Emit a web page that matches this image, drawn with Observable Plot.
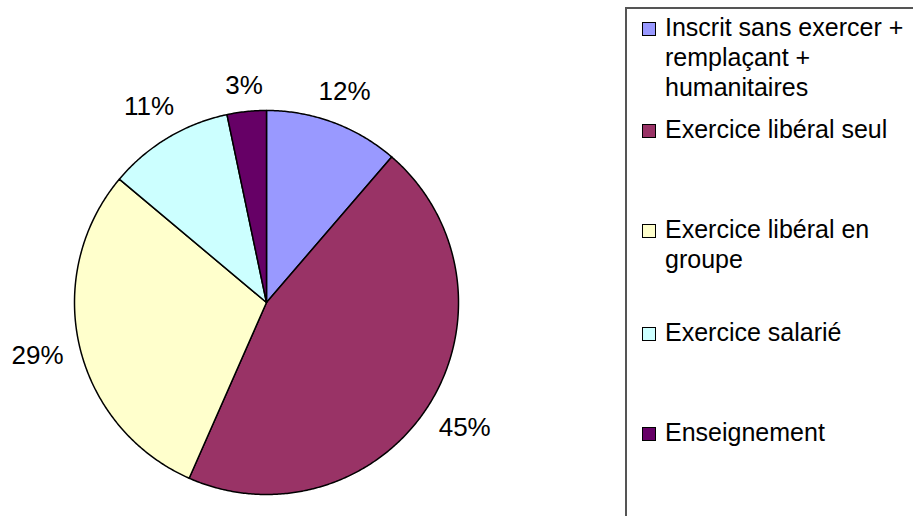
<!DOCTYPE html>
<html><head><meta charset="utf-8">
<script src="https://cdn.jsdelivr.net/npm/d3@7"></script>
<script src="https://cdn.jsdelivr.net/npm/@observablehq/plot@0.6"></script>
<style>
body{margin:0;background:#fff;font-family:"Liberation Sans",Arial,sans-serif;}
#wrap{position:relative;width:913px;height:516px;overflow:hidden;}
#legend{position:absolute;left:625px;top:7px;width:300px;height:540px;border:2px solid #555;box-sizing:border-box;}
.item{position:absolute;left:38px;font-size:25px;line-height:30px;color:#000;white-space:pre;}
.sw{position:absolute;left:15px;width:12px;height:12px;border:1px solid #000;}
</style></head><body><div id="wrap"></div>
<script>
const categories = ["Inscrit sans exercer + remplaçant + humanitaires","Exercice libéral seul","Exercice libéral en groupe","Exercice salarié","Enseignement"];
const legendLines = ["Inscrit sans exercer +\nremplaçant +\nhumanitaires","Exercice libéral seul","Exercice libéral en\ngroupe","Exercice salarié","Enseignement"];
const values = [11.3, 45.3, 29.5, 10.6, 3.3];
const labels = ["12%","45%","29%","11%","3%"];
const colors = ["#9999FF","#993366","#FFFFCC","#CCFFFF","#660066"];

const W = 913, H = 516, R = 192, cx = 266, cy = 302;
const arcs = d3.pie().sort(null)(values);
const pts = [];
arcs.forEach((a, i) => {
  const cat = categories[i];
  pts.push({x: 0, y: 0, cat});
  const n = Math.max(2, Math.ceil((a.endAngle - a.startAngle) / (Math.PI / 360)));
  for (let k = 0; k <= n; k++) {
    const t = a.startAngle + (a.endAngle - a.startAngle) * k / n;
    pts.push({x: Math.sin(t), y: Math.cos(t), cat});
  }
  pts.push({x: 0, y: 0, cat});
});
const fs = 26;
const labelData = arcs.map((a, i) => {
  const t = (a.startAngle + a.endAngle) / 2;
  const hw = (labels[i].length - 1) * 0.556 * fs / 2 + 0.889 * fs / 2;
  const r = (R + 16 + hw * Math.abs(Math.sin(t)) + 8 * Math.abs(Math.cos(t))) / R;
  return {x: r * Math.sin(t), y: r * Math.cos(t), text: labels[i]};
});

const chart = Plot.plot({
  width: W, height: H,
  margin: 0,
  x: {domain: [-cx / R, (W - cx) / R], range: [0, W], axis: null},
  y: {domain: [-(H - cy) / R, cy / R], range: [H, 0], axis: null},
  color: {domain: categories, range: colors},
  style: {fontFamily: "'Liberation Sans', Arial, sans-serif", background: "white"},
  marks: [
    Plot.line(pts, {x: "x", y: "y", z: "cat", fill: "cat", stroke: "black", strokeWidth: 1.5, strokeLinejoin: "round"}),
    Plot.text(labelData, {x: "x", y: "y", text: "text", fontSize: fs, fill: "black", textAnchor: "middle", lineAnchor: "middle"})
  ]
});
const wrap = document.getElementById("wrap");
wrap.appendChild(chart);
const leg = document.createElement("div");
leg.id = "legend";
const tops = [3, 105, 205, 308, 408];
legendLines.forEach((t, i) => {
  const sw = document.createElement("div");
  sw.className = "sw";
  sw.style.top = (tops[i] + 10) + "px";
  sw.style.background = colors[i];
  const it = document.createElement("div");
  it.className = "item";
  it.style.top = tops[i] + "px";
  it.textContent = t;
  leg.appendChild(sw);
  leg.appendChild(it);
});
wrap.appendChild(leg);
</script></body></html>
